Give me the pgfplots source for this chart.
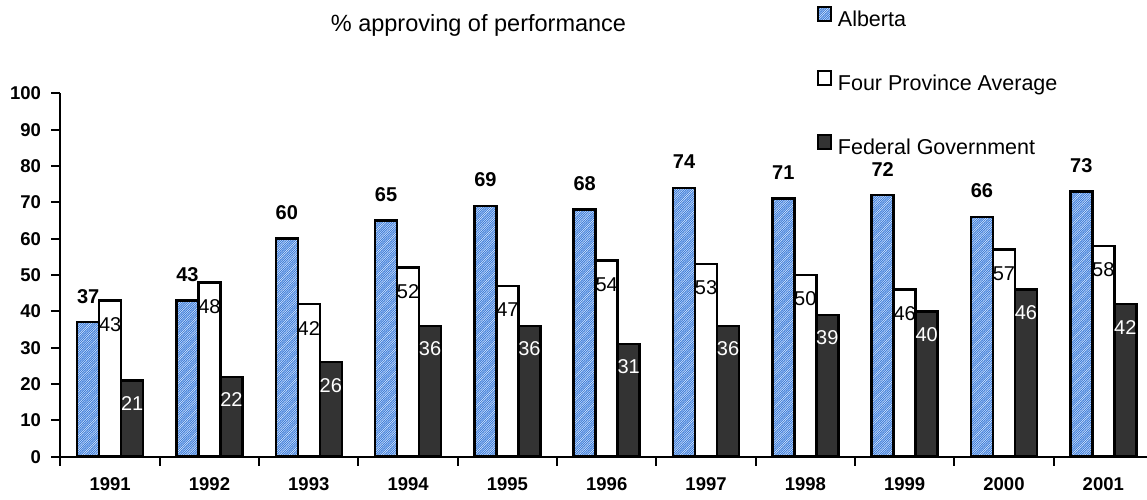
\documentclass[border=0pt]{standalone}
\usepackage{pgfplots}
\pgfplotsset{compat=1.18}
\usepackage{fontspec}
\setmainfont{Liberation Sans}
\usetikzlibrary{patterns}
\definecolor{albfill}{RGB}{236,243,252}
\definecolor{albline}{RGB}{60,125,220}
\definecolor{fedfill}{RGB}{51,51,51}
\pgfdeclarepatternformonly{finelines}{\pgfqpoint{-1pt}{-1pt}}{\pgfqpoint{3.5pt}{3.5pt}}{\pgfqpoint{2.3pt}{2.3pt}}{%
  \pgfsetlinewidth{0.85pt}%
  \pgfpathmoveto{\pgfqpoint{-0.2pt}{-0.2pt}}%
  \pgfpathlineto{\pgfqpoint{2.5pt}{2.5pt}}%
  \pgfusepath{stroke}}
\begin{document}
\begin{tikzpicture}
\begin{axis}[
  name=ax,
  scale only axis, width=1086.5pt, height=363.4pt,
  xmin=-0.5, xmax=10.44, ymin=0, ymax=100,
  enlargelimits=false, clip=false,
  axis lines*=left,
  axis line style={line width=2pt, black},
  /pgf/number format/assume math mode=true,
  ybar=0pt, bar width=22pt,
  tick align=outside,
  xtick={0,...,10},
  xticklabels={1991,1992,1993,1994,1995,1996,1997,1998,1999,2000,2001},
  minor xtick={-0.5,0.5,...,9.5},
  major x tick style={draw=none},
  minor x tick style={black, line width=2pt},
  minor tick length=9pt,
  ytick={0,10,...,100},
  ytick style={black, line width=2pt},
  major tick length=9pt,
  yticklabel style={font=\fontsize{18.5}{18.5}\selectfont\bfseries, xshift=-7pt},
  xticklabel style={font=\fontsize{18.5}{18.5}\selectfont\bfseries, yshift=-8pt},
  legend style={at={(0.696,1.240)}, anchor=north west, draw=none, fill=none,
    font=\fontsize{21.5}{21.5}\selectfont, row sep=38.5pt, column sep=6pt, inner sep=0pt,
    nodes={inner sep=0pt, text height=16pt, text depth=5pt}},
  legend cell align=left,
  legend image code/.code={\draw[#1, line width=2pt] (0pt,0.5pt) rectangle (13pt,14pt);},
]
\addplot[draw=black, line width=2.5pt, fill=albfill,
  postaction={pattern=finelines, pattern color=albline},
  nodes near coords,
  every node near coord/.append style={font=\fontsize{20}{20}\selectfont\bfseries, anchor=center, yshift=26pt, text=black}]
  coordinates {(0,37) (1,43) (2,60) (3,65) (4,69) (5,68) (6,74) (7,71) (8,72) (9,66) (10,73)};
\addlegendentry{Alberta}
\addplot[draw=black, line width=2.5pt, fill=white,
  nodes near coords,
  every node near coord/.append style={font=\fontsize{20}{20}\selectfont, anchor=center, yshift=-24pt, text=black}]
  coordinates {(0,43) (1,48) (2,42) (3,52) (4,47) (5,54) (6,53) (7,50) (8,46) (9,57) (10,58)};
\addlegendentry{Four Province Average}
\addplot[draw=black, line width=2.5pt, fill=fedfill,
  nodes near coords,
  every node near coord/.append style={font=\fontsize{20}{20}\selectfont, anchor=center, yshift=-23pt, text=white}]
  coordinates {(0,21) (1,22) (2,26) (3,36) (4,36) (5,31) (6,36) (7,39) (8,40) (9,46) (10,42)};
\addlegendentry{Federal Government}
\node[anchor=base, font=\fontsize{23.5}{23.5}\selectfont] at (rel axis cs:0.3847,1.1695) {\% approving of performance};
\end{axis}
\pgfresetboundingbox
\path[use as bounding box] ([xshift=-60.5pt,yshift=-42.3pt]ax.south west) rectangle ([yshift=93.3pt]ax.north east);
\end{tikzpicture}
\end{document}
